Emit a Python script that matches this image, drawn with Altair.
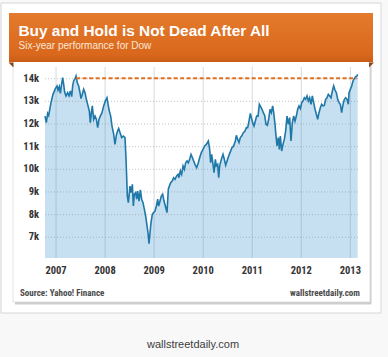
import altair as alt
import pandas as pd

# ---- data (decimal year, Dow points) ----
years = [
    2006.775, 2006.802, 2006.829, 2006.850, 2006.897, 2006.938, 2006.986, 2007.020, 2007.040, 2007.067,
    2007.088, 2007.108, 2007.135, 2007.156, 2007.176, 2007.203, 2007.237, 2007.264, 2007.292, 2007.319,
    2007.339, 2007.359, 2007.387, 2007.407, 2007.434, 2007.461, 2007.489, 2007.509, 2007.536, 2007.563,
    2007.591, 2007.618, 2007.652, 2007.679, 2007.699, 2007.720, 2007.740, 2007.767, 2007.795, 2007.822,
    2007.849, 2007.876, 2007.903, 2007.937, 2007.971, 2008.005, 2008.039, 2008.060, 2008.087, 2008.114,
    2008.141, 2008.175, 2008.202, 2008.229, 2008.256, 2008.277, 2008.304, 2008.338, 2008.372, 2008.406,
    2008.427, 2008.454, 2008.474, 2008.508, 2008.528, 2008.556, 2008.576, 2008.596, 2008.623, 2008.644,
    2008.664, 2008.692, 2008.719, 2008.746, 2008.773, 2008.800, 2008.827, 2008.855, 2008.875, 2008.895,
    2008.916, 2008.936, 2008.963, 2008.990, 2009.018, 2009.045, 2009.072, 2009.092, 2009.120, 2009.147,
    2009.174, 2009.201, 2009.228, 2009.262, 2009.289, 2009.310, 2009.337, 2009.371, 2009.398, 2009.425,
    2009.459, 2009.487, 2009.507, 2009.534, 2009.561, 2009.589, 2009.616, 2009.643, 2009.670, 2009.697,
    2009.724, 2009.752, 2009.779, 2009.806, 2009.833, 2009.867, 2009.901, 2009.928, 2009.962, 2009.996,
    2010.030, 2010.064, 2010.105, 2010.132, 2010.152, 2010.173, 2010.200, 2010.221, 2010.248, 2010.268,
    2010.295, 2010.316, 2010.336, 2010.370, 2010.404, 2010.431, 2010.458, 2010.486, 2010.519, 2010.553,
    2010.588, 2010.621, 2010.655, 2010.676, 2010.703, 2010.730, 2010.757, 2010.784, 2010.819, 2010.853,
    2010.880, 2010.907, 2010.934, 2010.961, 2010.982, 2011.009, 2011.036, 2011.063, 2011.090, 2011.118,
    2011.145, 2011.172, 2011.199, 2011.226, 2011.253, 2011.281, 2011.308, 2011.335, 2011.362, 2011.389,
    2011.416, 2011.437, 2011.464, 2011.478, 2011.505, 2011.532, 2011.552, 2011.573, 2011.600, 2011.627,
    2011.654, 2011.681, 2011.709, 2011.736, 2011.763, 2011.790, 2011.817, 2011.845, 2011.872, 2011.899,
    2011.926, 2011.953, 2011.981, 2012.008, 2012.035, 2012.062, 2012.089, 2012.117, 2012.144, 2012.171,
    2012.198, 2012.225, 2012.252, 2012.280, 2012.307, 2012.334, 2012.361, 2012.388, 2012.415, 2012.443,
    2012.470, 2012.497, 2012.524, 2012.551, 2012.579, 2012.606, 2012.633, 2012.660, 2012.687, 2012.715,
    2012.742, 2012.769, 2012.796, 2012.823, 2012.851, 2012.878, 2012.905, 2012.932, 2012.959, 2012.973,
    2013.000, 2013.027, 2013.054, 2013.081, 2013.109, 2013.136, 2013.149,
]
dow = [
    12350, 12060, 12470, 12380, 12940, 13310, 13560, 13680, 13500, 13650,
    13350, 13680, 14050, 13750, 13410, 13240, 13380, 13240, 13460, 13210,
    13680, 13900, 14000, 14120, 13820, 13680, 13380, 13120, 13310, 13530,
    13380, 13090, 12800, 12570, 12060, 12500, 12800, 12210, 12350, 12210,
    11840, 12210, 12350, 12500, 12800, 13020, 13160, 12870, 12570, 12350,
    11910, 11550, 11100, 11500, 11700, 11800, 11620, 11400, 11470, 11400,
    10440, 8820, 8530, 9260, 8970, 9340, 8380, 8900, 8970, 8680,
    9040, 8600, 9090, 8680, 8530, 8240, 7940, 7500, 7200, 6720,
    7200, 7650, 8010, 8090, 8160, 8380, 8680, 8380, 8600, 8820,
    8900, 8600, 8380, 8090, 9120, 9260, 9410, 9490, 9630, 9560,
    9710, 9780, 9630, 9930, 9780, 10150, 10000, 10290, 10370, 10290,
    10440, 10660, 10520, 10370, 10220, 10070, 10290, 10510, 10740, 10880,
    11030, 11100, 11250, 10880, 10290, 10660, 10220, 9850, 10440, 10150,
    10220, 9630, 10150, 10440, 10660, 10440, 10180, 10370, 10590, 10770,
    10960, 11030, 11250, 11500, 11320, 11180, 11400, 11470, 11620, 11690,
    11840, 11840, 12130, 12470, 12280, 12060, 11910, 12130, 12350, 12350,
    12870, 12770, 12650, 12500, 12380, 11990, 11940, 12210, 12650, 12500,
    12800, 12500, 11990, 11620, 11030, 11400, 10880, 11470, 10810, 11100,
    11320, 11690, 12350, 11990, 12280, 11250, 12060, 12350, 12130, 12350,
    12650, 12800, 12680, 12940, 13020, 13160, 13090, 13240, 13020, 13160,
    12870, 13240, 12940, 12650, 12430, 12210, 12500, 12720, 12870, 12800,
    12820, 13090, 13160, 13310, 13240, 13160, 13460, 13680, 13500, 13380,
    13090, 12940, 12870, 12500, 12870, 13090, 13160, 13090, 12870, 13380,
    13530, 13680, 13900, 14000, 14090, 14120, 14190,
]
year_ticks = [2007, 2008, 2009, 2010, 2011, 2012, 2013]
year_labels = ["2007", "2008", "2009", "2010", "2011", "2012", "2013"]
value_ticks = [7000, 8000, 9000, 10000, 11000, 12000, 13000, 14000]
value_labels = ["7k", "8k", "9k", "10k", "11k", "12k", "13k", "14k"]
prev_high = [14020]
high_span = [2007.41, 2013.13]

title = "Buy and Hold is Not Dead After All"
subtitle = "Six-year performance for Dow"
source = "Source: Yahoo! Finance"
brand = "wallstreetdaily.com"

# ---- chart ----
W, H = 313, 191
X_DOMAIN = [2006.775, 2013.156]
Y_DOMAIN = [6086, 14516]
NARROW = "'Liberation Sans Narrow', 'Roboto Condensed', 'Arial Narrow', 'Liberation Sans', sans-serif"
SANS = "'Liberation Sans', Arial, Helvetica, sans-serif"

df = pd.DataFrame({"year": years, "dow": dow})
one = pd.DataFrame({"a": [0]})
xt = pd.DataFrame({"yr": year_ticks, "lab": year_labels})
yt = pd.DataFrame({"v": value_ticks, "lab": value_labels})

xs = alt.Scale(domain=X_DOMAIN, nice=False, zero=False)
ys = alt.Scale(domain=Y_DOMAIN, nice=False, zero=False)


def box(x, x2, y, y2, **kw):
    return alt.Chart(one).mark_rect(**kw).encode(
        x=alt.value(x), x2=alt.value(x2), y=alt.value(y), y2=alt.value(y2)
    )


def label(txt, x, y, **kw):
    return alt.Chart(one).mark_text(**kw).encode(
        x=alt.value(x), y=alt.value(y), text=alt.value(txt)
    )


card = box(-44, 336, -64, 246, fill="white", stroke="#d6d6d6", strokeWidth=1)
shadow = box(-30, 326.5, -4, 237.5, fill="#bdbdbd", opacity=0.75)
panel = box(-32, 325, -7, 235, fill="white", stroke="#d2d2d2", strokeWidth=0.6)
header = box(
    -36, 328, -54, -5,
    color=alt.Gradient(
        gradient="linear", x1=0, x2=0, y1=0, y2=1,
        stops=[alt.GradientStop(color="#e47a2c", offset=0),
               alt.GradientStop(color="#d9681d", offset=0.85),
               alt.GradientStop(color="#c85b15", offset=1)],
    ),
)
fold_l = alt.Chart(one).mark_point(
    shape="M-1,-1 L1,-1 L1,1 Z", filled=True, size=24, color="#8c3f0e", opacity=1
).encode(x=alt.value(-34), y=alt.value(-2))
fold_r = alt.Chart(one).mark_point(
    shape="M-1,-1 L1,-1 L-1,1 Z", filled=True, size=24, color="#8c3f0e", opacity=1
).encode(x=alt.value(326.5), y=alt.value(-2))

t_title = label(title, -26.5, -31, align="left", baseline="alphabetic",
                font=SANS, fontSize=15.4, fontWeight="bold", color="white")
t_sub = label(subtitle, -26.5, -18.5, align="left", baseline="alphabetic",
              font=SANS, fontSize=10, color="#fde7d6")
t_src = label(source, -25, 226, align="left", baseline="middle",
              font=NARROW, fontSize=9, fontWeight="bold", color="#4a4a4a")
t_brand = label(brand, 315, 226, align="right", baseline="middle",
                font=NARROW, fontSize=9, fontWeight="bold", color="#4a4a4a")
t_caption = label(brand, 148, 277.5, align="center", baseline="middle",
                  font=SANS, fontSize=11, color="#3c3c3c")

base = alt.Chart(df)
area = base.mark_area(color="#c6dff1", opacity=1).encode(
    x=alt.X("year:Q", scale=xs, axis=None),
    y=alt.Y("dow:Q", scale=ys, axis=None),
    y2=alt.datum(Y_DOMAIN[0]),
)
vgrid = alt.Chart(xt).mark_rule(
    color="#6f8ea8", opacity=0.32, strokeWidth=1
).encode(x=alt.X("yr:Q", scale=xs, axis=None))
hgrid = alt.Chart(yt).mark_rule(
    color="#8a8a8a", opacity=0.5, strokeWidth=1, strokeDash=[1, 2]
).encode(y=alt.Y("v:Q", scale=ys, axis=None))
line = base.mark_line(color="#1f78a8", strokeWidth=1.6).encode(
    x=alt.X("year:Q", scale=xs, axis=None), y=alt.Y("dow:Q", scale=ys, axis=None)
)
high = alt.Chart(pd.DataFrame({"s": [high_span[0]], "e": [high_span[1]], "v": prev_high})).mark_rule(
    color="#e0701e", strokeWidth=2, strokeDash=[4, 2.5]
).encode(x=alt.X("s:Q", scale=xs, axis=None), x2="e:Q", y=alt.Y("v:Q", scale=ys, axis=None))

xlab = alt.Chart(xt).mark_text(
    baseline="middle", align="center", font=NARROW, fontSize=10.5, fontWeight="bold", color="#333333"
).encode(x=alt.X("yr:Q", scale=xs, axis=None), y=alt.value(H + 12.5), text="lab:N")
ylab = alt.Chart(yt).mark_text(
    baseline="middle", align="right", font=NARROW, fontSize=10.5, fontWeight="bold", color="#333333"
).encode(y=alt.Y("v:Q", scale=ys, axis=None), x=alt.value(-6), text="lab:N")

chart = alt.layer(
    card, shadow, panel, header, fold_l, fold_r, t_title, t_sub,
    area, vgrid, hgrid, line, high, xlab, ylab,
    t_src, t_brand, t_caption,
).properties(
    width=W, height=H,
    autosize=alt.AutoSizeParams(type="none"),
    padding={"left": 45, "top": 67, "right": 30, "bottom": 99},
    background="#f8f8f8",
).configure_view(stroke=None)

chart.save("out.html", embed_options={"renderer": "svg", "actions": False})
